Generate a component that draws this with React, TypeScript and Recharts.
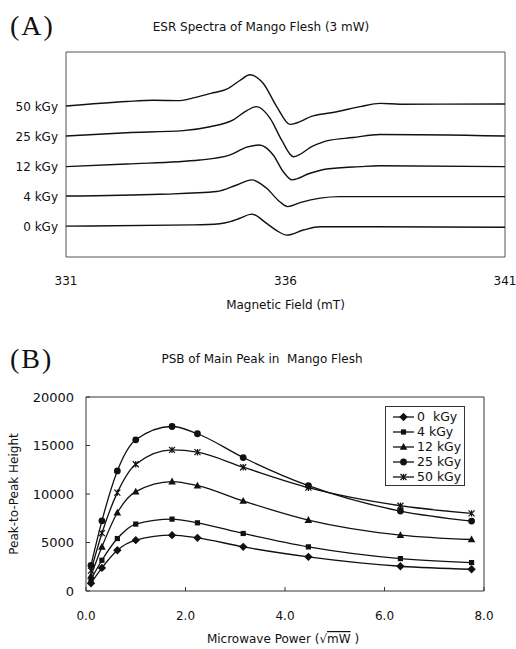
import React from 'react';
import {
  LineChart,
  Line,
  XAxis,
  YAxis,
  ReferenceArea,
  Legend,
} from 'recharts';

// ---- Panel A: ESR spectra (field in mT, signal in stacked plot units) ----
const doseLabels = ['0 kGy', '4 kGy', '12 kGy', '25 kGy', '50 kGy'];
const doseTicks = [1, 2, 3, 4, 5];
const fieldTicks = [331, 336, 341];

const field0 = [331.0, 333.9, 334.5, 334.74, 334.96, 335.23, 335.57, 335.8, 336.03, 336.41, 336.79, 338.0, 341.0];
const signal0 = [1.03, 1.07, 1.11, 1.18, 1.29, 1.43, 1.12, 0.88, 0.73, 0.9, 1.01, 1.01, 0.99];

const field4 = [331.0, 333.14, 334.43, 334.89, 335.23, 335.57, 335.87, 336.05, 336.33, 336.79, 337.24, 341.0];
const signal4 = [2.03, 2.09, 2.18, 2.4, 2.57, 2.29, 1.84, 1.68, 1.81, 1.96, 2.01, 2.01];

const field12 = [331.0, 332.38, 334.05, 334.74, 335.12, 335.4, 335.72, 335.95, 336.15, 336.56, 336.94, 337.7, 338.15, 341.0];
const signal12 = [3.01, 3.1, 3.23, 3.4, 3.66, 3.73, 3.4, 2.84, 2.57, 2.79, 2.93, 3.01, 3.04, 3.01];

const field25 = [331.0, 332.38, 333.67, 334.28, 334.81, 335.12, 335.34, 335.65, 335.91, 336.18, 336.63, 336.94, 337.54, 338.15, 341.0];
const signal25 = [4.03, 4.14, 4.21, 4.34, 4.57, 4.88, 5.01, 4.62, 3.9, 3.34, 3.7, 3.87, 3.98, 4.08, 4.03];

const field50 = [331.0, 332.38, 332.98, 333.6, 333.9, 334.3, 334.66, 334.96, 335.19, 335.49, 335.8, 336.1, 336.63, 337.17, 337.7, 338.15, 338.61, 341.0];
const signal50 = [5.03, 5.18, 5.22, 5.21, 5.3, 5.45, 5.59, 5.88, 6.07, 5.79, 5.01, 4.42, 4.7, 4.84, 5.01, 5.12, 5.09, 5.1];

// ---- Panel B: power saturation (sqrt mW vs peak-to-peak height) ----
const powerRoot = [0.1, 0.32, 0.63, 1.0, 1.73, 2.24, 3.16, 4.47, 6.32, 7.75];
const height0 = [800, 2380, 4200, 5240, 5760, 5480, 4550, 3520, 2550, 2240];
const height4 = [1200, 3170, 5410, 6900, 7410, 7030, 5930, 4550, 3340, 2930];
const height12 = [1550, 4550, 8070, 10240, 11280, 10860, 9280, 7310, 5760, 5310];
const height25 = [2650, 7230, 12380, 15590, 16960, 16210, 13760, 10860, 8240, 7210];
const height50 = [2100, 5960, 10140, 13070, 14550, 14310, 12760, 10650, 8790, 8000];
const powerTicks = [0, 2, 4, 6, 8];
const heightTicks = [0, 5000, 10000, 15000, 20000];
const legendNames = ['0  kGy', '4 kGy', '12 kGy', '25 kGy', '50 kGy'];

const INK = '#111';
const FONT = '"DejaVu Sans", sans-serif';

const toSpectrum = (f: number[], s: number[]) => f.map((x, i) => ({ field: x, v: s[i] }));
const spectra = [
  toSpectrum(field0, signal0),
  toSpectrum(field4, signal4),
  toSpectrum(field12, signal12),
  toSpectrum(field25, signal25),
  toSpectrum(field50, signal50),
];

const psbData = powerRoot.map((x, i) => ({
  x,
  s0: height0[i],
  s4: height4[i],
  s12: height12[i],
  s25: height25[i],
  s50: height50[i],
}));

type Shape = 'diamond' | 'square' | 'triangle' | 'circle' | 'star';
const seriesB: { key: string; shape: Shape }[] = [
  { key: 's0', shape: 'diamond' },
  { key: 's4', shape: 'square' },
  { key: 's12', shape: 'triangle' },
  { key: 's25', shape: 'circle' },
  { key: 's50', shape: 'star' },
];

function Marker({ shape, cx, cy }: { shape: Shape; cx: number; cy: number }) {
  switch (shape) {
    case 'diamond':
      return <path d={`M${cx},${cy - 4.2}L${cx + 4.2},${cy}L${cx},${cy + 4.2}L${cx - 4.2},${cy}Z`} fill={INK} />;
    case 'square':
      return <rect x={cx - 2.6} y={cy - 2.6} width={5.2} height={5.2} fill={INK} />;
    case 'triangle':
      return <path d={`M${cx},${cy - 4}L${cx + 3.8},${cy + 2.8}L${cx - 3.8},${cy + 2.8}Z`} fill={INK} />;
    case 'circle':
      return <circle cx={cx} cy={cy} r={3.4} fill={INK} />;
    default:
      return (
        <path
          d={`M${cx - 3},${cy - 3}L${cx + 3},${cy + 3}M${cx + 3},${cy - 3}L${cx - 3},${cy + 3}M${cx},${cy - 3.2}L${cx},${cy + 3.2}`}
          stroke={INK}
          strokeWidth={1.2}
          fill="none"
        />
      );
  }
}

function PsbLegend() {
  return (
    <div
      style={{
        width: 80,
        height: 80,
        boxSizing: 'border-box',
        border: '1px solid #333',
        background: '#fff',
      }}
    >
      <svg width={78} height={78} style={{ display: 'block' }}>
        {seriesB.map((s, i) => {
          const y = 10 + i * 15;
          return (
            <g key={s.key}>
              <line x1={7} x2={28} y1={y} y2={y} stroke={INK} strokeWidth={1.3} />
              <Marker shape={s.shape} cx={17.5} cy={y} />
              <text
                x={31}
                y={y + 4.4}
                fontSize={12.5}
                fontFamily={FONT}
                fill={INK}
                style={{ whiteSpace: 'pre' }}
              >
                {legendNames[i]}
              </text>
            </g>
          );
        })}
      </svg>
    </div>
  );
}

export default function App() {
  return (
    <div
      style={{
        position: 'absolute',
        left: 0,
        top: 0,
        width: 516,
        height: 649,
        background: '#fff',
        fontFamily: FONT,
      }}
    >
      {/* Panel A */}
      <div style={{ position: 'absolute', left: 0, top: 0 }}>
        <LineChart width={516} height={320} margin={{ top: 52, right: 11, left: 6, bottom: 8 }}>
          <XAxis
            type="number"
            dataKey="field"
            domain={[331, 341]}
            ticks={fieldTicks}
            allowDataOverflow
            axisLine={false}
            tickLine={false}
            tickSize={0}
            tickMargin={19}
            height={55}
            tick={{ fill: INK, fontSize: 12, fontFamily: FONT }}
          />
          <YAxis
            type="number"
            domain={[0, 6.83]}
            ticks={doseTicks}
            allowDataOverflow
            width={60}
            axisLine={false}
            tickLine={false}
            tickSize={0}
            tickMargin={8}
            tickFormatter={(v: number) => doseLabels[v - 1] ?? ''}
            tick={{ fill: INK, fontSize: 12, fontFamily: FONT }}
          />
          <ReferenceArea x1={331} x2={341} y1={0} y2={6.83} fill="none" stroke="#555" strokeWidth={1} />
          {spectra.map((d, i) => (
            <Line
              key={doseLabels[i]}
              data={d}
              dataKey="v"
              type="monotone"
              stroke={INK}
              strokeWidth={1.4}
              dot={false}
              isAnimationActive={false}
            />
          ))}
        </LineChart>
      </div>

      {/* Panel B */}
      <div style={{ position: 'absolute', left: 0, top: 320 }}>
        <LineChart width={516} height={329} data={psbData} margin={{ top: 77, right: 32, left: 26, bottom: 0 }}>
          <XAxis
            type="number"
            dataKey="x"
            domain={[0, 8]}
            ticks={powerTicks}
            axisLine={false}
            tickLine={{ stroke: '#333' }}
            tickSize={-4}
            tickMargin={24}
            height={58}
            tickFormatter={(v: number) => v.toFixed(1)}
            tick={{ fill: INK, fontSize: 12, fontFamily: FONT }}
          />
          <YAxis
            type="number"
            domain={[0, 20000]}
            ticks={heightTicks}
            width={60}
            axisLine={false}
            tickLine={{ stroke: '#333' }}
            tickSize={-4}
            tickMargin={16}
            tick={{ fill: INK, fontSize: 13, fontFamily: FONT }}
          />
          <ReferenceArea x1={0} x2={8} y1={0} y2={20000} fill="none" stroke="#333" strokeWidth={1} />
          <Legend
            layout="horizontal"
            verticalAlign="middle"
            align="center"
            content={() => <PsbLegend />}
            wrapperStyle={{ left: 385, top: 86, width: 80, height: 80 }}
          />
          {seriesB.map((s) => (
            <Line
              key={s.key}
              dataKey={s.key}
              type="monotone"
              stroke={INK}
              strokeWidth={1.3}
              dot={(p: any) => <Marker key={`${s.key}-${p.index}`} shape={s.shape} cx={p.cx} cy={p.cy} />}
              isAnimationActive={false}
            />
          ))}
        </LineChart>
      </div>

      {/* Titles and axis captions */}
      <svg
        width={516}
        height={649}
        style={{ position: 'absolute', left: 0, top: 0, pointerEvents: 'none' }}
      >
        <text x={10} y={34.5} fontFamily='"Liberation Serif", serif' fontSize={28} letterSpacing={2} fill={INK}>
          (A)
        </text>
        <text x={261} y={30.5} textAnchor="middle" fontFamily={FONT} fontSize={12} fill={INK}>
          ESR Spectra of Mango Flesh (3 mW)
        </text>
        <text x={285.5} y={309} textAnchor="middle" fontFamily={FONT} fontSize={12} fill={INK}>
          Magnetic Field (mT)
        </text>
        <text x={10} y={368} fontFamily='"Liberation Serif", serif' fontSize={28} letterSpacing={2} fill={INK}>
          (B)
        </text>
        <text x={262} y={363} textAnchor="middle" fontFamily={FONT} fontSize={12} fill={INK} style={{ whiteSpace: 'pre' }}>
          PSB of Main Peak in  Mango Flesh
        </text>
        <text
          x={18}
          y={494}
          transform="rotate(-90 18 494)"
          textAnchor="middle"
          fontFamily={FONT}
          fontSize={12}
          fill={INK}
        >
          Peak-to-Peak Height
        </text>
        <text x={283} y={643} textAnchor="middle" fontFamily={FONT} fontSize={12} fill={INK}>
          <tspan>Microwave Power (√</tspan>
          <tspan textDecoration="overline">mW</tspan>
          <tspan> )</tspan>
        </text>
      </svg>
    </div>
  );
}
